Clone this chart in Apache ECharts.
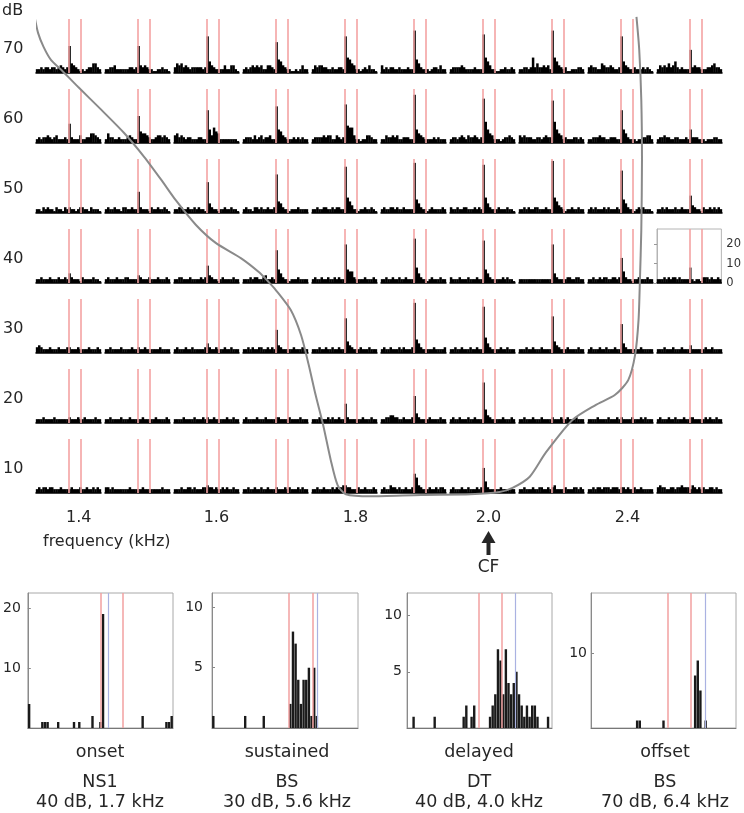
<!DOCTYPE html>
<html><head><meta charset="utf-8">
<script src="https://cdn.jsdelivr.net/npm/echarts@6/dist/echarts.min.js"></script>
<style>html,body{margin:0;padding:0;background:#fff}#c{width:744px;height:813px}</style>
</head><body><div id="c"></div>
<script>
// ---------- data ----------
const levels = [70, 60, 50, 40, 30, 20, 10];                 // dB rows
const freqTickPos = [0.6, 2.6, 4.62, 6.55, 8.57];           // in column units
const freqTickLabels = ['1.4', '1.6', '1.8', '2.0', '2.4'];
const stimLines = [15.15, 20.7];                            // stimulus on/off (bin units)
const scaleTicks = [0, 10, 20];

const row70 = [
 [2,2,3,2,3,3,2,3,3,2,3,4,3,2,3,14,5,4,3,2,1,2,1,2,3,3,5,5,3,2],
 [2,2,3,3,4,2,2,2,2,2,2,3,3,2,3,14,4,3,4,3,2,2,1,1,2,2,3,2,2,1],
 [3,5,4,5,3,4,3,2,3,3,3,3,3,2,3,19,6,4,3,2,2,2,2,4,2,2,4,4,2,1],
 [2,3,2,3,4,3,4,3,4,2,2,4,4,3,2,16,7,6,4,3,2,2,1,1,2,1,2,4,2,2],
 [2,4,3,4,4,3,3,2,2,3,2,2,3,3,2,19,8,7,5,4,2,2,1,2,3,2,4,2,2,1],
 [4,2,3,2,3,3,2,2,3,2,2,2,3,2,2,22,7,5,3,2,2,2,1,2,3,3,2,4,2,2],
 [2,3,3,3,3,4,3,2,2,2,2,3,2,2,2,20,8,6,4,2,2,1,1,2,2,3,2,2,3,2],
 [2,2,3,3,2,3,8,3,5,3,3,4,3,4,2,22,8,6,4,3,2,3,1,1,2,2,2,3,3,2],
 [3,4,3,3,2,2,5,4,3,3,4,3,2,2,3,19,6,4,3,2,2,3,2,2,2,3,2,3,2,1],
 [2,4,3,4,3,5,3,4,6,3,2,3,2,2,2,12,3,4,3,3,2,2,2,3,3,4,5,3,3,2]
];
const row60 = [
 [2,3,2,3,3,4,3,2,3,4,2,2,2,3,2,10,3,2,2,2,4,2,2,3,3,5,5,4,3,2],
 [2,5,3,3,2,2,3,2,2,2,3,4,3,2,2,14,6,5,5,4,3,2,2,3,4,4,3,4,3,2],
 [4,5,3,4,3,2,3,3,2,2,2,3,3,2,2,17,7,4,8,6,5,2,2,2,2,2,2,2,2,1],
 [2,3,3,3,2,4,2,3,4,2,3,3,4,2,2,19,7,6,4,3,2,2,2,3,2,3,2,3,2,2],
 [2,3,3,3,3,4,3,4,4,2,2,4,3,2,3,20,9,8,8,4,2,2,1,2,2,4,4,3,2,2],
 [2,2,4,3,3,4,3,4,2,2,3,3,3,2,2,25,7,5,4,3,2,2,2,2,3,2,3,2,2,2],
 [2,3,3,2,3,4,3,2,4,3,3,4,3,2,3,23,11,7,5,4,2,2,2,1,2,3,3,4,3,2],
 [4,3,4,3,3,3,2,2,3,3,2,3,4,3,3,22,11,7,5,4,2,3,2,2,2,3,3,2,3,2],
 [2,2,3,3,3,4,3,3,2,2,3,3,3,2,2,17,7,5,3,2,2,2,1,2,2,3,3,4,4,2],
 [2,3,3,4,3,3,2,2,3,3,2,2,2,3,2,7,3,3,3,2,2,2,1,2,2,2,3,3,2,2]
];
const row50 = [
 [2,2,1,3,2,3,2,2,1,3,2,2,1,3,2,3,2,2,1,2,3,3,2,2,1,3,2,2,2,1],
 [2,3,2,2,3,2,2,1,3,3,2,2,3,2,2,11,3,2,2,2,1,3,2,2,3,2,2,3,2,1],
 [2,2,3,3,2,2,3,2,2,3,2,3,2,2,1,16,5,3,2,2,1,2,2,3,2,2,3,2,2,1],
 [2,3,2,2,1,3,3,2,3,2,2,3,2,2,3,20,6,5,3,2,2,1,2,2,2,3,2,2,2,2],
 [2,2,3,2,2,3,3,2,2,3,2,3,3,2,2,24,8,6,4,2,2,1,2,2,3,2,2,3,2,1],
 [2,3,2,2,3,3,2,3,2,2,3,2,2,2,2,26,7,5,3,2,2,1,2,3,2,2,2,2,3,2],
 [3,2,2,3,2,2,3,3,2,2,2,3,2,3,2,25,8,5,3,2,2,2,3,2,2,2,3,2,2,1],
 [2,2,3,2,3,2,2,3,3,2,2,2,3,2,2,27,8,6,4,3,2,1,2,2,3,2,2,3,2,2],
 [2,3,2,3,2,2,2,3,2,3,2,2,2,3,2,22,7,5,3,2,2,1,2,3,2,3,2,2,2,1],
 [2,2,3,2,3,2,2,2,3,2,2,3,2,2,2,9,4,3,2,2,1,3,2,2,3,2,3,2,3,2]
];
const row40 = [
 [2,2,3,2,2,2,3,2,2,2,3,2,2,3,2,5,3,2,2,2,1,3,2,2,2,2,3,2,2,1],
 [2,3,2,2,2,3,2,2,2,3,3,2,2,2,2,4,3,2,2,2,3,2,2,2,3,2,2,2,3,2],
 [2,2,3,3,2,2,2,3,2,2,2,2,3,2,3,9,4,3,2,2,1,2,3,2,2,2,2,3,2,2],
 [2,2,2,3,2,3,3,2,2,3,4,2,2,3,2,17,7,5,3,2,2,1,2,2,2,3,2,2,2,2],
 [2,3,2,2,3,2,2,3,2,2,3,2,3,2,2,20,7,6,6,3,2,2,2,2,3,2,2,2,3,2],
 [2,2,3,2,2,3,2,2,3,2,2,3,2,2,2,23,8,5,3,2,2,1,2,3,2,2,2,3,2,2],
 [3,2,2,2,3,2,2,2,3,2,2,2,3,2,2,22,7,5,3,2,2,2,2,2,3,2,3,2,2,1],
 [2,2,2,2,2,2,2,2,2,2,2,2,2,2,2,20,5,3,2,2,2,2,3,3,2,2,3,3,2,2],
 [2,2,3,2,2,3,2,3,3,2,2,3,3,2,3,13,6,3,2,2,1,2,2,3,2,2,2,3,2,2],
 [2,2,2,3,2,3,2,3,3,2,3,2,2,2,2,8,2,1,2,2,1,3,3,3,2,3,2,2,3,2]
];
const row30 = [
 [3,4,3,2,2,2,3,2,2,2,3,2,2,2,3,3,2,2,2,3,2,2,2,2,3,2,2,2,3,2],
 [2,2,3,2,2,2,2,3,2,2,2,2,3,2,2,3,2,2,3,2,2,2,2,2,2,3,2,2,2,2],
 [2,3,2,2,2,3,2,2,3,2,2,2,2,2,3,5,3,2,2,3,2,2,2,3,2,2,3,2,2,2],
 [2,2,3,2,3,2,2,3,3,2,2,3,2,3,2,12,4,3,2,2,2,2,2,3,2,2,2,3,2,2],
 [2,2,2,3,2,2,3,2,2,3,2,2,3,2,2,18,6,4,3,2,2,2,3,2,2,2,3,2,2,2],
 [2,3,2,2,3,2,2,2,3,2,3,2,2,2,3,26,7,5,3,2,2,2,2,2,3,2,2,2,2,3],
 [2,2,3,2,2,3,2,2,2,3,2,2,3,2,2,24,8,5,3,2,2,2,2,3,2,2,3,2,2,2],
 [2,2,2,3,2,2,3,2,2,2,3,2,2,2,2,19,6,4,3,2,2,2,3,2,2,2,2,3,2,2],
 [2,3,2,2,2,3,2,2,3,2,2,2,3,2,2,15,5,3,2,2,2,2,2,2,3,2,2,2,2,2],
 [2,2,2,3,2,2,2,3,2,2,2,3,2,2,2,4,2,2,2,2,2,2,3,2,2,3,2,2,2,2]
];
const row20 = [
 [2,2,2,3,2,2,2,2,3,2,2,2,2,2,2,3,2,2,2,3,2,2,3,2,2,2,2,3,2,2],
 [2,2,3,2,2,2,2,3,2,2,2,3,2,2,2,2,2,3,2,2,2,2,2,3,2,2,2,2,3,2],
 [2,2,2,2,3,2,2,2,2,3,2,2,2,3,2,3,2,2,3,2,2,2,2,2,3,2,2,3,2,2],
 [2,3,2,2,2,2,3,2,2,2,3,2,2,2,2,3,3,2,2,2,2,3,2,2,2,2,3,2,2,2],
 [2,2,2,3,2,2,2,3,2,3,2,2,3,2,2,10,3,2,2,2,2,2,2,3,2,2,2,3,2,2],
 [2,2,3,3,4,4,3,3,2,2,3,2,2,2,3,14,5,3,2,2,2,2,3,2,2,2,2,3,2,2],
 [2,3,2,2,3,2,2,2,3,2,2,3,2,2,2,21,7,4,3,2,2,2,2,2,3,2,2,2,3,2],
 [2,2,3,2,2,2,3,2,2,2,3,2,2,2,2,3,2,2,2,3,2,2,3,2,2,2,3,2,2,2],
 [2,2,2,2,3,2,2,2,2,3,2,2,2,3,2,3,2,2,2,2,3,2,2,2,3,2,3,2,2,2],
 [2,3,2,2,2,3,2,2,3,2,2,2,3,2,2,3,3,2,2,2,2,2,3,2,3,2,2,3,2,2]
];
const row10 = [
 [2,3,2,3,3,2,3,3,2,2,2,3,2,2,2,2,3,2,2,2,3,2,2,3,2,2,3,2,3,2],
 [3,3,2,3,2,2,2,2,2,2,2,3,2,2,2,2,2,3,2,2,2,2,2,2,2,2,3,2,2,2],
 [2,2,2,3,2,2,3,3,2,3,2,2,2,3,3,4,3,3,2,3,2,2,3,2,3,2,2,3,2,2],
 [2,2,3,2,2,3,2,2,3,2,2,3,2,2,2,3,2,2,2,3,2,3,2,2,2,3,2,3,2,2],
 [2,2,3,2,2,3,2,2,2,3,2,3,2,3,4,4,3,3,2,2,2,3,2,2,3,2,2,2,3,2],
 [2,3,2,2,4,3,3,2,3,2,2,3,2,2,3,10,8,4,3,2,2,2,3,2,2,3,2,3,3,2],
 [2,3,2,2,2,3,2,2,3,2,2,2,3,2,3,13,6,3,2,2,2,2,2,3,2,2,2,2,2,2],
 [2,2,3,2,2,2,3,2,2,3,3,2,2,3,2,3,4,2,2,2,2,3,2,2,2,3,3,2,3,2],
 [2,2,3,2,3,3,2,3,3,3,2,3,3,3,2,3,3,2,3,2,2,3,2,2,3,2,2,2,2,2],
 [3,4,3,3,2,2,3,3,2,3,3,4,3,3,3,2,4,3,2,3,2,3,2,2,3,3,2,3,2,2]
];

// tuning curve (x in column units, y in dB)
const tuningCol = [-0.04,0.01,0.09,0.2,0.35,0.59,0.93,1.26,1.55,1.8,2.01,2.3,2.59,2.96,3.22,3.36,3.46,3.68,3.83,3.94,4.04,4.15,4.26,4.36,4.48,4.84,5.57,6.29,6.71,6.9,7.15,7.38,7.77,8.1,8.39,8.58,8.68,8.73,8.75,8.77,8.78,8.77,8.74,8.7];
const tuningDb  = [74.6,72.3,70.3,68.4,67.0,64.6,61.3,58.0,54.6,51.3,48.4,44.9,42.3,40.1,38.1,36.7,35.6,32.7,29.1,24.9,20.6,16.3,11.3,7.7,6.4,6.1,6.3,6.4,6.7,7.3,8.9,12.3,17.0,19.1,20.6,22.7,26.3,31.3,37.0,44.1,54.1,62.7,69.9,74.6];

// example units (bottom)
const exampleNames = ['onset', 'sustained', 'delayed', 'offset'];
const exampleTypes = ['NS1', 'BS', 'DT', 'BS'];
const exampleConds = ['40 dB, 1.7 kHz', '30 dB, 5.6 kHz', '40 dB, 4.0 kHz', '70 dB, 6.4 kHz'];
const onsetBins = [0,5,6,7,11,17,19,24,27,28,43,52,53,54];
const onsetCounts = [4,1,1,1,1,1,1,2,1,19,2,1,1,2];
const sustainedBins = [0,12,19,29,30,31,32,33,34,35,36,37,38,39];
const sustainedCounts = [1,1,1,2,8,7,4,2,4,4,5,1,5,1];
const delayedBins = [2,10,21,22,24,25,31,32,33,34,35,36,37,38,39,40,41,42,43,44,45,46,47,48,49,53];
const delayedCounts = [1,1,1,2,1,2,1,2,3,7,6,3,7,4,3,4,5,3,2,1,2,1,2,2,1,1];
const offsetBins = [17,18,27,39,40,41,43];
const offsetCounts = [1,1,1,7,9,5,1];
const exampleRed = [[27.7,36.1],[28.8,37.8],[27.4,35.8],[29.0,37.8]];
const exampleBlue = [30.5, 39.7, 41.2, 43.4];
const exampleYMax = [22.5, 11.2, 12, 18];
const exampleYTicks = [[10,20],[5,10],[5,10],[10]];

// ---------- build ----------
const FONT = 'DejaVu Sans';
const TXT = '#262626';
const rows = [row70, row60, row50, row40, row30, row20, row10];
const grid = [], xAxis = [], yAxis = [], series = [];

rows.forEach((row, r) => row.forEach((vals, c) => {
  const i = grid.length;
  const isScale = (r === 3 && c === 9);
  grid.push({left: 36 + 69 * c, top: 19 + 70 * r, width: 65, height: 54,
    show: isScale, borderColor: '#b4b4b4', borderWidth: 1});
  xAxis.push({gridIndex: i, type: 'value', min: 0, max: 30,
    axisLine: {show: true, onZero: false, lineStyle: {color: '#000', width: 1.5}},
    axisTick: {show: false}, axisLabel: {show: false}, splitLine: {show: false}});
  yAxis.push({gridIndex: i, type: 'value', min: 0, max: 28, position: 'right', show: isScale,
    axisLine: {show: isScale, lineStyle: {color: '#b4b4b4'}},
    axisTick: {show: isScale, inside: true, length: 3, customValues: scaleTicks, lineStyle: {color: '#999'}},
    axisLabel: {show: isScale, customValues: scaleTicks, fontSize: 11.5, color: '#333', margin: 5, fontFamily: FONT},
    splitLine: {show: false}});
  series.push({type: 'bar', xAxisIndex: i, yAxisIndex: i, silent: true,
    data: vals.map((v, k) => [k + 0.5, v]), barWidth: 2.5,
    itemStyle: {color: '#000'},
    markLine: {silent: true, symbol: 'none', label: {show: false},
      lineStyle: {color: '#f4a3a3', width: 1.6, type: 'solid'},
      data: stimLines.map(x => ({xAxis: x}))}});
}));

// overlay (tuning curve + frequency / level axes)
const ov = grid.length;
grid.push({left: 36, top: 0, width: 690, height: 504});
xAxis.push({gridIndex: ov, type: 'value', min: 0, max: 10,
  axisLine: {show: false}, axisTick: {show: false}, splitLine: {show: false},
  axisLabel: {customValues: freqTickPos, fontSize: 16, color: TXT, margin: 6, fontFamily: FONT,
    formatter: v => { const k = freqTickPos.findIndex(p => Math.abs(p - v) < 1e-6); return k >= 0 ? freqTickLabels[k] : ''; }}});
yAxis.push({gridIndex: ov, type: 'value', min: 5, max: 77,
  axisLine: {show: false}, axisTick: {show: false}, splitLine: {show: false},
  axisLabel: {customValues: levels, fontSize: 16, color: TXT, margin: 14, fontFamily: FONT}});
series.push({type: 'line', xAxisIndex: ov, yAxisIndex: ov, silent: true,
  data: tuningCol.map((x, k) => [x, tuningDb[k]]), smooth: 0.25, symbol: 'none', showSymbol: false,
  clip: false, z: 10, lineStyle: {color: '#8a8a8a', width: 2}});

// example panels
const exLeft = [27, 212, 407, 591];
const exWidth = [146, 146, 145, 145];
const exMargin = [7, 9, 5, 4];
const exBins = [onsetBins, sustainedBins, delayedBins, offsetBins];
const exCounts = [onsetCounts, sustainedCounts, delayedCounts, offsetCounts];
const graphic = [];
exLeft.forEach((L, k) => {
  const i = grid.length;
  grid.push({left: L, top: 593, width: exWidth[k], height: 135, show: true, borderColor: '#a8a8a8', borderWidth: 1});
  xAxis.push({gridIndex: i, type: 'value', min: 0, max: 55,
    axisLine: {show: true, onZero: false, lineStyle: {color: '#777'}},
    axisTick: {show: false}, axisLabel: {show: false}, splitLine: {show: false}});
  yAxis.push({gridIndex: i, type: 'value', min: 0, max: exampleYMax[k],
    axisLine: {show: true, lineStyle: {color: '#8a8a8a'}},
    axisTick: {show: true, inside: true, length: 3, customValues: exampleYTicks[k], lineStyle: {color: '#888'}},
    axisLabel: {customValues: exampleYTicks[k], fontSize: 14, color: TXT, margin: exMargin[k], fontFamily: FONT},
    splitLine: {show: false}});
  const ml = exampleRed[k].map(x => ({xAxis: x, lineStyle: {color: '#f2a0a0', width: 1.5}}));
  ml.push({xAxis: exampleBlue[k], lineStyle: {color: '#aab2e2', width: 1.2}});
  series.push({type: 'bar', xAxisIndex: i, yAxisIndex: i, silent: true,
    data: exBins[k].map((b, j) => [b + 0.5, exCounts[k][j]]), barWidth: 2.4,
    itemStyle: {color: '#1a1a1a'},
    markLine: {silent: true, symbol: 'none', label: {show: false}, lineStyle: {type: 'solid'}, data: ml}});
  const cx = [100, 287, 479, 665][k];
  const lines = [[exampleNames[k], 752], [exampleTypes[k], 782], [exampleConds[k], 802]];
  lines.forEach(([t, y]) => graphic.push({type: 'text', x: cx, y: y, silent: true,
    style: {text: t, font: '17.5px ' + FONT, fill: TXT, textAlign: 'center', textVerticalAlign: 'middle', align: 'center', verticalAlign: 'middle'}}));
});

graphic.push({type: 'text', x: 2, y: 11, silent: true,
  style: {text: 'dB', font: '16px ' + FONT, fill: TXT, textAlign: 'left', textVerticalAlign: 'middle', align: 'left', verticalAlign: 'middle'}});
graphic.push({type: 'text', x: 43, y: 542, silent: true,
  style: {text: 'frequency (kHz)', font: '16px ' + FONT, fill: TXT, textAlign: 'left', textVerticalAlign: 'middle', align: 'left', verticalAlign: 'middle'}});
graphic.push({type: 'polygon', silent: true, shape: {points: [[488.5, 531], [481.5, 543], [495.5, 543]]}, style: {fill: TXT}});
graphic.push({type: 'rect', silent: true, shape: {x: 486.5, y: 541, width: 4, height: 14}, style: {fill: TXT}});
graphic.push({type: 'text', x: 488.5, y: 568, silent: true,
  style: {text: 'CF', font: '17px ' + FONT, fill: TXT, textAlign: 'center', textVerticalAlign: 'middle', align: 'center', verticalAlign: 'middle'}});

const chart = echarts.init(document.getElementById('c'), null, {renderer: 'canvas'});
chart.setOption({animation: false, backgroundColor: '#fff', grid, xAxis, yAxis, series, graphic});
</script></body></html>
